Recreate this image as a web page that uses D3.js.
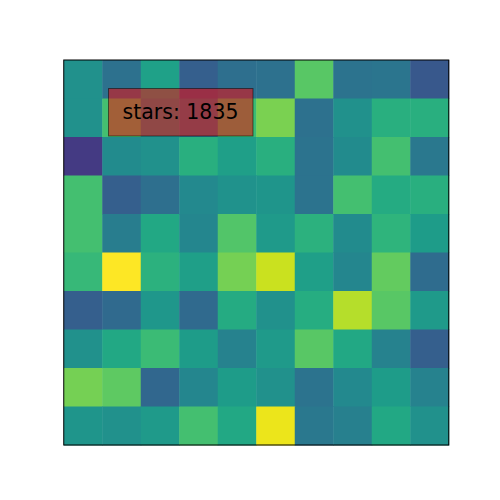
<!DOCTYPE html>
<html>
<head>
<meta charset="utf-8">
<title>stars heatmap</title>
<script src="https://cdn.jsdelivr.net/npm/d3@7"></script>
<style>
 body { margin: 0; background: #fff; }
</style>
</head>
<body>
<div id="chart"></div>
<script>
// cell values (viridis, domain 0..100)
var row0 = [50, 37, 57, 30, 36, 37, 74, 38, 39, 27];
var row1 = [50, 70, 50, 40, 68, 80, 37, 50, 63, 63];
var row2 = [17, 48, 50, 63, 56, 63, 38, 48, 70, 40];
var row3 = [70, 30, 36, 47, 51, 52, 38, 70, 61, 63];
var row4 = [70, 42, 60, 46, 73, 54, 64, 48, 65, 55];
var row5 = [67, 100, 64, 56, 79, 92, 56, 46, 76, 35];
var row6 = [30, 34, 53, 34, 61, 50, 62, 89, 74, 54];
var row7 = [50, 60, 68, 55, 44, 54, 74, 60, 44, 30];
var row8 = [79, 75, 33, 46, 55, 50, 38, 47, 55, 44];
var row9 = [52, 50, 54, 70, 60, 97, 40, 43, 60, 50];
var rows = [row0, row1, row2, row3, row4, row5, row6, row7, row8, row9];

var colorDomain = [0, 100];
var label = "stars: 1835";

var W = 500, H = 500;
var plotLeft = 63.75, plotTop = 60, plotSize = 385;

var svg = d3.select("#chart").append("svg")
    .attr("width", W).attr("height", H);

var x = d3.scaleBand().domain(d3.range(10)).range([plotLeft, plotLeft + plotSize]);
var y = d3.scaleBand().domain(d3.range(10)).range([plotTop, plotTop + plotSize]);
var color = d3.scaleSequential(d3.interpolateViridis).domain(colorDomain);

var cells = [];
rows.forEach(function(r, i) {
    r.forEach(function(v, j) {
        cells.push({row: i, col: j, value: v});
    });
});

svg.append("g").selectAll("rect")
    .data(cells)
    .enter().append("rect")
    .attr("x", function(d) { return x(d.col); })
    .attr("y", function(d) { return y(d.row); })
    .attr("width", x.bandwidth() + 0.5)
    .attr("height", y.bandwidth() + 0.5)
    .attr("fill", function(d) { return color(d.value); });

// frame
svg.append("rect")
    .attr("x", plotLeft).attr("y", plotTop)
    .attr("width", plotSize).attr("height", plotSize)
    .attr("fill", "none")
    .attr("stroke", "#000")
    .attr("stroke-width", 1);

// annotation box
var g = svg.append("g");
g.append("rect")
    .attr("x", 108.5).attr("y", 88.5)
    .attr("width", 144.5).attr("height", 47.5)
    .attr("fill", "red")
    .attr("fill-opacity", 0.5)
    .attr("stroke", "#000")
    .attr("stroke-opacity", 0.5)
    .attr("stroke-width", 1);
g.append("text")
    .attr("x", 180.5).attr("y", 112)
    .attr("text-anchor", "middle")
    .attr("dominant-baseline", "central")
    .style("font-family", "DejaVu Sans")
    .style("font-size", "20.5px")
    .attr("fill", "#000")
    .text(label);
</script>
</body>
</html>
